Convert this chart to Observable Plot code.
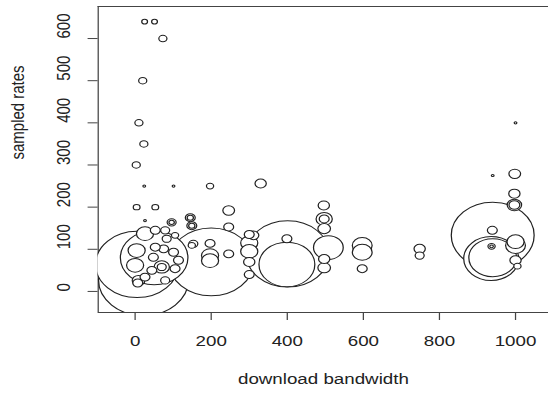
<!DOCTYPE html>
<html>
<head>
<meta charset="utf-8">
<script src="https://cdn.jsdelivr.net/npm/d3@7"></script>
<script src="https://cdn.jsdelivr.net/npm/@observablehq/plot@0.6"></script>
<style>
  html, body { margin: 0; padding: 0; background: #fff; overflow: hidden; }
  #chart { width: 548px; height: 395px; }
</style>
</head>
<body>
<div id="chart"></div>
<script>
// download bandwidth (x), sampled rates (y), symbol size (relative value)
const bandwidth = [
  22, 5, 200, 401, 399, 940, 936, 940, 50, 508,
  597, 597, 1000, 1000, 300, 300, 197, 197, 26, 4, 0, 70, 70,
  497, 497, 997, 997, 9, 497,
  330, 246, 998, 997, 939, 1000, 748, 748, 597, 496, 497, 497, 399,
  300, 300, 300, 197, 246, 246, 75, 101, 149, 149, 96, 96, 83, 48, 44,
  26, 79, 105, 114, 53, 79, 53, 7, 145, 145, 153, 149, 105, 937, 937, 1005, 311,
  25, 51, 73, 20, 10, 23, 3, 197, 4, 53,
  24, 101, 940, 1000, 26
];
const rates = [
  28, 64, 70, 89, 64, 133, 78, 80, 80, 104,
  109, 93, 109, 118, 115, 95, 85, 73, 137, 97, 62, 58, 58,
  172, 172, 205, 205, 26, 149,
  256, 192, 279, 232, 145, 74, 101, 85, 54, 204, 77, 56, 125,
  135, 70, 40, 114, 89, 153, 101, 93, 156, 156, 164, 164, 125, 81, 50,
  34, 26, 54, 74, 105, 145, 145, 20, 175, 175, 113, 109, 133, 107, 107, 60, 133,
  640, 640, 600, 500, 400, 350, 300, 250, 200, 200,
  250, 250, 275, 400, 168
];
const sizes = [
  100, 92, 94, 92, 62, 92, 61, 53, 75, 33,
  22, 22, 22, 19, 19, 19, 19, 19, 19, 19, 19, 17, 10,
  18, 11, 16, 12, 14, 14,
  12.5, 13, 13, 12.5, 11, 12.5, 12.5, 10, 11, 12.5, 12.5, 14, 11,
  11, 12.5, 11, 11, 11, 11, 11, 11, 11, 7, 10, 6, 10, 11, 11,
  11, 10, 11, 11, 11, 10, 11, 11, 11, 7, 10, 8, 8, 8, 4, 8, 12,
  6.4, 6.4, 9, 9, 9, 9, 9, 8, 7.5, 7.5,
  3, 3, 3, 3, 3
];
const xTicks = [0, 200, 400, 600, 800, 1000];
const yTicks = [0, 100, 200, 300, 400, 500, 600];
const xLabel = "download bandwidth";
const yLabel = "sampled rates";

const points = bandwidth.map((x, i) => ({x, y: rates[i], s: sizes[i]}));

const W0 = 438, H = 395;
const ML = 78, MT = 6, MB = 83, MR = 0;
const frameW = W0 - ML - MR, frameH = H - MT - MB;
const ink = "#222";

const svg = Plot.plot({
  width: W0,
  height: H,
  marginLeft: ML,
  marginRight: MR,
  marginTop: MT,
  marginBottom: MB,
  x: {domain: [-97, 1087], axis: null},
  y: {domain: [-50, 676], axis: null},
  r: {type: "linear", domain: [0, 100], range: [0, 36]},
  style: {fontFamily: "'Liberation Sans', Arial, sans-serif", fontSize: "15px", background: "white", color: ink},
  marks: [
    Plot.ruleX([-97], {stroke: "#444", strokeWidth: 1}),
    Plot.ruleY([-50, 676], {stroke: "#444", strokeWidth: 1}),
    Plot.dot(points, {x: "x", y: "y", r: "s", fill: "white", stroke: ink, strokeWidth: 1, clip: true}),
    Plot.ruleX(xTicks, {x: d => d, insetTop: frameH, insetBottom: -8, stroke: "#444"}),
    Plot.ruleY(yTicks, {y: d => d, insetLeft: -8, insetRight: frameW, stroke: "#444"}),
    Plot.text(xTicks, {x: d => d, text: d => String(d), frameAnchor: "bottom", dy: 29, lineAnchor: "middle", fill: ink}),
    Plot.text(yTicks, {y: d => d, text: d => String(d), frameAnchor: "left", dx: -27, rotate: -90, lineAnchor: "middle", fill: ink}),
    Plot.text([xLabel], {text: d => d, frameAnchor: "bottom", dy: 67, lineAnchor: "middle", fill: ink}),
    Plot.text([yLabel], {text: d => d, frameAnchor: "left", dx: -64, rotate: -90, lineAnchor: "middle", fill: ink})
  ]
});

// The reference image is stretched horizontally; reproduce by scaling the SVG.
svg.setAttribute("width", 548);
svg.setAttribute("height", 395);
svg.setAttribute("preserveAspectRatio", "none");
svg.style.width = "548px";
svg.style.height = "395px";
svg.style.maxWidth = "none";
document.getElementById("chart").appendChild(svg);
</script>
</body>
</html>
